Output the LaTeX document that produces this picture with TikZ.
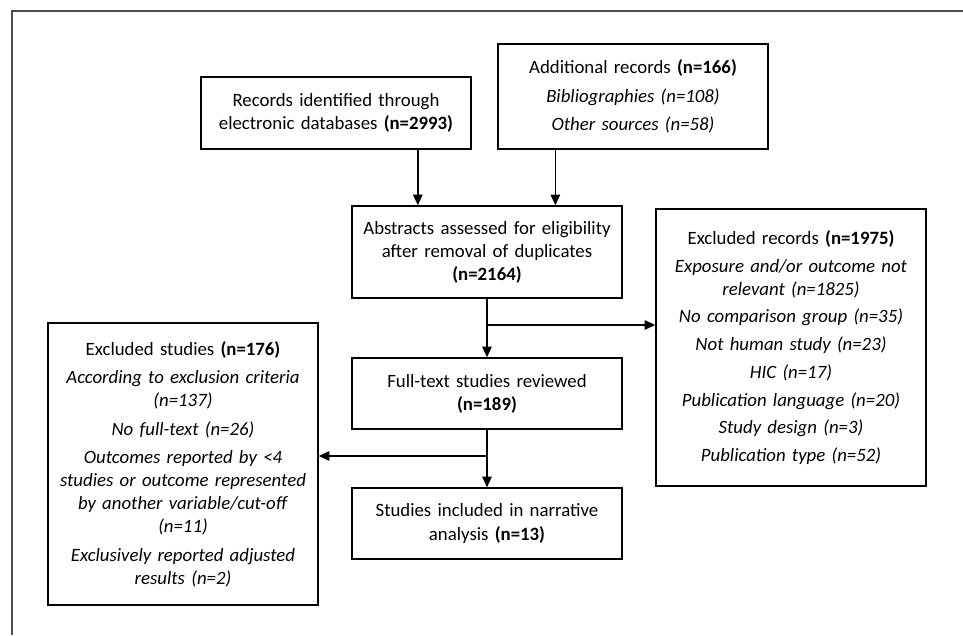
\documentclass[tikz,border=0pt]{standalone}
\usepackage{fontspec}
\setmainfont{Carlito}
\usetikzlibrary{arrows.meta,calc}

\begin{document}
\begin{tikzpicture}[x=0.75pt, y=-0.75pt]
        \tikzstyle{every node}=[font=\fontsize{14.1}{17.3}\selectfont]
        \tikzstyle{box}=[draw, line width=1pt, align=center, text width=196pt, inner sep=0pt, minimum width=202.5pt]
        \tikzstyle{arr}=[line width=1.1pt, -{Triangle[length=8pt,width=7pt]}]
        \useasboundingbox (0,0) rectangle (963,635);
        \draw[black!70, line width=1.1pt] (12,635) -- (12,11) -- (963,11);
        \node [box, minimum height=54pt] (rec) at (336,113) {Records identified through\\ electronic databases \textbf{(n=2993)}};
        \node [box, minimum height=78.75pt] (add) at (633,96.5) {Additional records \textbf{(n=166)}\\[4pt] \textit{Bibliographies (n=108)}\\[4pt] \textit{Other sources (n=58)}};
        \node [box, minimum height=69pt] (abs) at (487,252) {Abstracts assessed for eligibility\\ after removal of duplicates\\ \textbf{(n=2164)}};
        \node [box, minimum height=207.75pt] (exrec) at (791,347.5) {Excluded records \textbf{(n=1975)}\\[3.5pt] \textit{Exposure and/or outcome not}\\ \textit{relevant (n=1825)}\\[3.5pt] \textit{No comparison group (n=35)}\\[3.5pt] \textit{Not human study (n=23)}\\[3.5pt] \textit{HIC (n=17)}\\[3.5pt] \textit{Publication language (n=20)}\\[3.5pt] \textit{Study design (n=3)}\\[3.5pt] \textit{Publication type (n=52)}};
        \node [box, minimum height=53.25pt] (full) at (487,393.5) {Full-text studies reviewed\\ \textbf{(n=189)}};
        \node [box, minimum height=211.5pt] (exstu) at (183,464) {Excluded studies \textbf{(n=176)}\\[4pt] \textit{According to exclusion criteria}\\ \textit{(n=137)}\\[4pt] \textit{No full-text (n=26)}\\[4pt] \textit{Outcomes reported by <4}\\ \textit{studies or outcome represented}\\ \textit{by another variable/cut-off}\\ \textit{(n=11)}\\[4pt] \textit{Exclusively reported adjusted}\\ \textit{results (n=2)}};
        \node [box, minimum height=53.25pt] (incl) at (487,523.5) {Studies included in narrative\\ analysis \textbf{(n=13)}};
        % entry points on the abstracts box
        \coordinate (in1) at ($(abs.north west)!0.245!(abs.north east)$);
        \coordinate (in2) at ($(abs.north west)!0.752!(abs.north east)$);
        \draw [arr] (rec.south -| in1) -- (in1);
        \draw [arr] (add.south -| in2) -- (in2);
        % branches
        \coordinate (b1) at (abs.south |- 0,325);
        \coordinate (b2) at (full.south |- 0,456);
        \draw [arr] (abs) -- (full);
        \draw [arr] (b1) -- (b1 -| exrec.west);
        \draw [arr] (full) -- (incl);
        \draw [arr] (b2) -- (b2 -| exstu.east);
    \end{tikzpicture}
\end{document}
